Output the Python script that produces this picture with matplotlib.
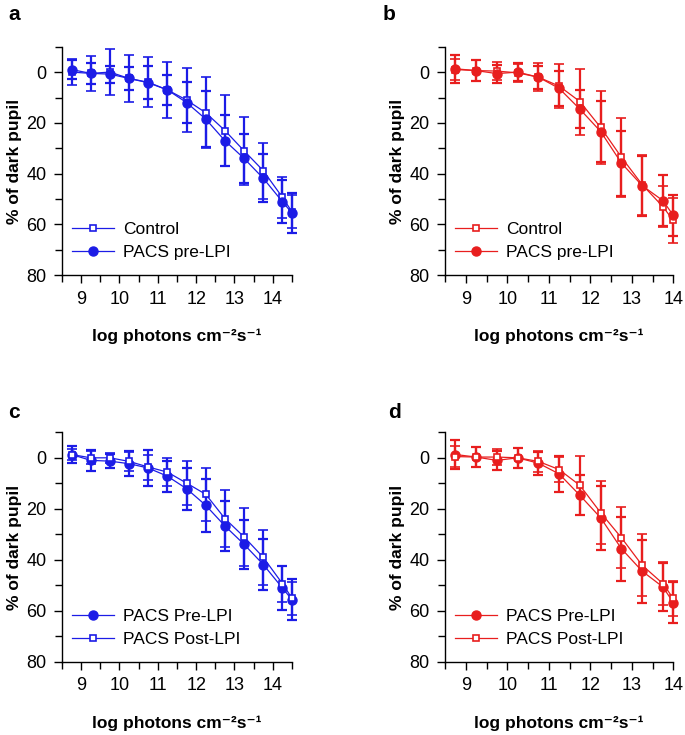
import numpy as np
import matplotlib
matplotlib.use('Agg')
import matplotlib.pyplot as plt
from matplotlib.ticker import MultipleLocator

plt.rcParams['font.family'] = ['Liberation Sans', 'DejaVu Sans']

blue = '#1c1ce6'
red = '#e81e1e'

# panel a / c x values (log photons)
x_ac = [8.75, 9.25, 9.75, 10.25, 10.75, 11.25, 11.75, 12.25, 12.75, 13.25, 13.75, 14.25, 14.5]
# panel b / d x values
x_bd = [8.75, 9.25, 9.75, 10.25, 10.75, 11.25, 11.75, 12.25, 12.75, 13.25, 13.75, 14.0]

# a: Control vs PACS pre-LPI (blue)
a_control = [0, 0.5, 0, 2.5, 4, 7, 11, 16, 23, 31, 38.8, 49.3, 55]
a_control_err = [5, 7, 9, 9.2, 9.8, 11, 12.5, 14, 14, 13.5, 11, 8, 6.5]
a_pre = [-1, 0.5, 0.8, 2.5, 4.2, 7, 12, 18.5, 27, 34, 41.8, 51, 55.5]
a_pre_err = [3.8, 4, 3.3, 4.6, 6.5, 6, 8, 11, 10, 9.5, 9.5, 8.5, 8]

# b: Control vs PACS pre-LPI (red)
b_control = [-1, -0.6, -0.4, 0.3, 2, 5.5, 11.6, 21.8, 33.5, 44.3, 53, 58.4]
b_control_err = [4, 4, 3.7, 3.5, 5.5, 8.5, 13, 14.4, 15.5, 11.8, 8, 9]
b_pre = [-1.3, -0.6, 0.6, 0, 2, 6.4, 14.6, 23.4, 35.8, 44.7, 50.6, 56.4]
b_pre_err = [5.5, 4, 3.5, 3.5, 4.5, 7, 7.5, 12, 12.8, 11.8, 10, 8]

# c: PACS Pre-LPI vs Post-LPI (blue)
c_pre = [-1.3, 1, 1.3, 2.3, 4, 7.2, 12.1, 18.6, 26.7, 33.9, 41.8, 51, 55.6]
c_pre_err = [3.5, 4, 2.8, 5, 7.2, 6, 8.2, 10.3, 9.8, 9.5, 9.8, 8.5, 8]
c_post = [-1.3, 0, 0, 1.4, 3.6, 5.6, 9.9, 14.3, 23.8, 31, 39, 49.3, 55]
c_post_err = [2.2, 2.5, 2, 3.6, 4.9, 5.5, 8.6, 10.3, 11, 11.5, 10.7, 7, 6.5]

# d: PACS Pre-LPI vs Post-LPI (red)
d_pre = [-1.3, -0.3, 1, 0, 2.1, 6.3, 14.7, 23.5, 35.6, 44.4, 50.6, 56.7]
d_pre_err = [5.5, 4, 3.6, 4, 4.5, 7, 7.8, 12.5, 12.6, 12.3, 9.5, 8]
d_post = [-0.5, -0.3, -0.3, 0, 1.4, 4.6, 10.8, 21.5, 31.3, 42.1, 49.3, 55.1]
d_post_err = [4, 4, 3, 4, 4.2, 5, 11.5, 12.4, 12, 12.1, 8.5, 7]

W, H = 685, 735
fig = plt.figure(figsize=(W / 100, H / 100), dpi=100)


def make_ax(l, r, top, bot, xmax):
    ax = fig.add_axes([l / W, 1 - bot / H, (r - l) / W, (bot - top) / H])
    ax.set_xlim(8.5, xmax)
    ax.set_ylim(80, -10)
    ax.xaxis.set_major_locator(MultipleLocator(1))
    ax.xaxis.set_minor_locator(MultipleLocator(0.5))
    ax.set_yticks([0, 20, 40, 60, 80])
    ax.set_yticks([-10, 10, 30, 50, 70], minor=True)
    for s in ['top', 'right']:
        ax.spines[s].set_visible(False)
    for s in ['left', 'bottom']:
        ax.spines[s].set_linewidth(1.0)
    ax.tick_params(which='both', direction='out', labelsize=13, width=1.0)
    ax.tick_params(which='major', length=6, pad=5)
    ax.tick_params(which='minor', length=5)
    ax.set_ylabel('% of dark pupil', fontsize=12.5, fontweight='bold', labelpad=3)
    ax.set_xlabel('log photons cm\u207b\u00b2s\u207b\u00b9', fontsize=12.5,
                  fontweight='bold', labelpad=15)
    return ax


def series(ax, x, y, e, col, filled, label):
    if filled:
        kw = dict(marker='o', markersize=6.5, markerfacecolor=col, markeredgecolor=col)
    else:
        kw = dict(marker='s', markersize=4.5, markerfacecolor='white', markeredgecolor=col,
                  markeredgewidth=1.2)
    ax.errorbar(x, y, yerr=e, color=col, lw=0.9, elinewidth=1.6, capsize=3.5,
                capthick=1.6, label=label, clip_on=False, zorder=3, **kw)


def legend(ax):
    h, l = ax.get_legend_handles_labels()
    hs = [hh[0] for hh in h]
    ax.legend(hs, l, loc='lower left', bbox_to_anchor=(0.0, 0.02), frameon=False,
              fontsize=12.5, handlelength=2.4, handletextpad=0.5, labelspacing=0.45,
              borderaxespad=0.2)


# a
ax = make_ax(62, 292, 46.7, 275.3, 14.5)
series(ax, x_ac, a_control, a_control_err, blue, False, 'Control')
series(ax, x_ac, a_pre, a_pre_err, blue, True, 'PACS pre-LPI')
legend(ax)

# b
ax = make_ax(445, 673.3, 46.7, 275.3, 14.0)
series(ax, x_bd, b_control, b_control_err, red, False, 'Control')
series(ax, x_bd, b_pre, b_pre_err, red, True, 'PACS pre-LPI')
legend(ax)

# c
ax = make_ax(62, 292, 432.3, 662, 14.5)
series(ax, x_ac, c_pre, c_pre_err, blue, True, 'PACS Pre-LPI')
series(ax, x_ac, c_post, c_post_err, blue, False, 'PACS Post-LPI')
legend(ax)

# d
ax = make_ax(445, 673.3, 432.3, 662, 14.0)
series(ax, x_bd, d_pre, d_pre_err, red, True, 'PACS Pre-LPI')
series(ax, x_bd, d_post, d_post_err, red, False, 'PACS Post-LPI')
legend(ax)

for lab, px, py in [('a', 8, 15), ('b', 383, 15), ('c', 8, 412), ('d', 388, 412)]:
    fig.text(px / W, 1 - py / H, lab, fontsize=15, fontweight='bold', va='center', ha='left')

fig.savefig('out.png', dpi=100)
